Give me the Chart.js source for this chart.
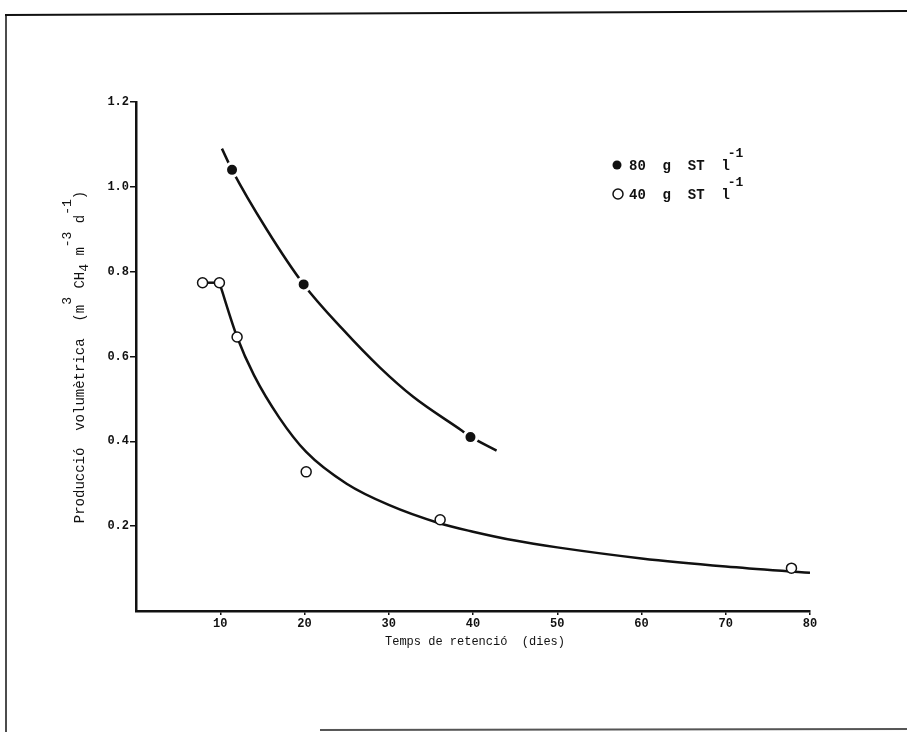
<!DOCTYPE html>
<html>
<head>
<meta charset="utf-8">
<script src="https://cdn.jsdelivr.net/npm/chart.js@4.4.1/dist/chart.umd.min.js"></script>
<style>
  html, body { margin: 0; padding: 0; background: #fff; }
  canvas { display: block; }
</style>
</head>
<body>
<canvas id="chart" width="907" height="732"></canvas>
<script>
// punts mesurats: temps de retenció (dies) i producció (m3 CH4 m-3 d-1)
const dies80 = [11.4, 19.9, 39.7];
const prod80 = [1.04, 0.77, 0.41];
const dies40 = [7.9, 9.9, 12.0, 20.2, 36.1, 77.8];
const prod40 = [0.774, 0.774, 0.646, 0.328, 0.215, 0.101];

// corbes ajustades, llegides del gràfic
const corba80X = [10.2, 11.4, 15.5, 19.9, 24.5, 28.9, 32.9, 38.7, 39.7, 42.8];
const corba80Y = [1.09, 1.04, 0.9, 0.77, 0.665, 0.575, 0.505, 0.425, 0.411, 0.378];
const corba40X = [9.9, 12.0, 14, 17, 20.2, 25, 30, 36, 40, 45, 50, 60, 70, 80];
const corba40Y = [0.774, 0.646, 0.556, 0.456, 0.375, 0.3, 0.25, 0.207, 0.187, 0.166, 0.15, 0.124, 0.105, 0.09];

// tram curt entre els dos primers punts de 40 g
const uneixX = [7.9, 9.9];
const uneixY = [0.774, 0.774];

const xTicks = [10, 20, 30, 40, 50, 60, 70, 80];
const yTicks = [0.2, 0.4, 0.6, 0.8, 1.0, 1.2];
const llegenda = ['80  g  ST  l', '40  g  ST  l'];

const INK = '#111';
const mono = 'Liberation Mono, Courier New, monospace';

function punts(xs, ys) {
  return xs.map((x, i) => ({ x: x, y: ys[i] }));
}

// marc, títols dels eixos i llegenda
const decor = {
  id: 'decor',
  afterDraw(chart) {
    const ctx = chart.ctx;
    const area = chart.chartArea;
    ctx.save();

    // marc del full escanejat
    ctx.strokeStyle = INK;
    ctx.lineWidth = 2;
    ctx.beginPath();
    ctx.moveTo(5, 15); ctx.lineTo(907, 11);
    ctx.stroke();
    ctx.lineWidth = 1.5;
    ctx.beginPath();
    ctx.moveTo(6, 15); ctx.lineTo(6, 732);
    ctx.stroke();
    ctx.strokeStyle = '#555';
    ctx.lineWidth = 2;
    ctx.beginPath();
    ctx.moveTo(320, 730); ctx.lineTo(907, 729);
    ctx.stroke();

    ctx.fillStyle = INK;

    // títol eix x
    ctx.font = '12px ' + mono;
    ctx.textAlign = 'center';
    ctx.textBaseline = 'middle';
    ctx.fillText('Temps de retenció  (dies)', 475, area.bottom + 31);

    // títol eix y, girat, amb super i subíndexs
    const parts = [
      { t: 'Producció  volumètrica  (m', s: 0 },
      { t: '3', s: -1 },
      { t: ' CH', s: 0 },
      { t: '4', s: 1 },
      { t: ' m', s: 0 },
      { t: '-3', s: -1 },
      { t: ' d', s: 0 },
      { t: '-1', s: -1 },
      { t: ')', s: 0 }
    ];
    const fMain = '14px ' + mono;
    const fSmall = '13px ' + mono;
    let total = 0;
    parts.forEach(p => {
      ctx.font = p.s ? fSmall : fMain;
      p.w = ctx.measureText(p.t).width;
      total += p.w;
    });
    ctx.translate(80, 357);
    ctx.rotate(-Math.PI / 2);
    ctx.textAlign = 'left';
    let px = -total / 2;
    parts.forEach(p => {
      ctx.font = p.s ? fSmall : fMain;
      const off = p.s < 0 ? -12 : (p.s > 0 ? 5 : 0);
      ctx.fillText(p.t, px, off);
      px += p.w;
    });
    ctx.setTransform(1, 0, 0, 1, 0, 0);

    // llegenda
    const lx = 617;
    const rows = [area.top + 63, area.top + 92];
    ctx.lineWidth = 1.5;
    ctx.strokeStyle = INK;
    ctx.beginPath();
    ctx.arc(lx, rows[0], 4.5, 0, Math.PI * 2);
    ctx.fill();
    ctx.beginPath();
    ctx.arc(lx + 1, rows[1], 5, 0, Math.PI * 2);
    ctx.stroke();
    ctx.textAlign = 'left';
    llegenda.forEach((txt, i) => {
      ctx.font = 'bold 14px ' + mono;
      ctx.fillText(txt, lx + 12, rows[i] + 1);
      const w = ctx.measureText(txt).width;
      ctx.font = 'bold 13px ' + mono;
      ctx.fillText('-1', lx + 12 + w - 2, rows[i] - 11);
    });

    ctx.restore();
  }
};

const ctx = document.getElementById('chart').getContext('2d');
new Chart(ctx, {
  type: 'scatter',
  data: {
    datasets: [
      {
        label: 'corba 80',
        data: punts(corba80X, corba80Y),
        showLine: true,
        cubicInterpolationMode: 'monotone',
        borderColor: INK,
        borderWidth: 2.5,
        pointRadius: 0,
        order: 5
      },
      {
        label: 'corba 40',
        data: punts(corba40X, corba40Y),
        showLine: true,
        cubicInterpolationMode: 'monotone',
        borderColor: INK,
        borderWidth: 2.5,
        pointRadius: 0,
        order: 5
      },
      {
        label: 'unió',
        data: punts(uneixX, uneixY),
        showLine: true,
        borderColor: INK,
        borderWidth: 2.5,
        pointRadius: 0,
        order: 4
      },
      {
        label: '80 g ST l-1',
        data: punts(dies80, prod80),
        pointRadius: 6.5,
        pointBackgroundColor: INK,
        pointBorderColor: '#fff',
        pointBorderWidth: 3,
        order: 1
      },
      {
        label: '40 g ST l-1',
        data: punts(dies40, prod40),
        pointRadius: 5,
        pointBackgroundColor: '#fff',
        pointBorderColor: INK,
        pointBorderWidth: 1.5,
        order: 1
      }
    ]
  },
  options: {
    responsive: false,
    animation: false,
    layout: { padding: { top: 102, right: 97, left: 0, bottom: 0 } },
    plugins: {
      legend: { display: false },
      tooltip: { enabled: false }
    },
    scales: {
      x: {
        type: 'linear',
        min: 0,
        max: 80,
        afterBuildTicks: s => { s.ticks = xTicks.map(v => ({ value: v })); },
        afterFit: s => { s.height = 121; },
        grid: { drawOnChartArea: false, drawTicks: true, tickLength: 4, color: INK, lineWidth: 1.5 },
        border: { display: true, color: INK, width: 2.5 },
        ticks: {
          color: INK,
          padding: 2,
          maxRotation: 0,
          font: { family: mono, size: 12, weight: 'bold' },
          callback: v => String(v)
        }
      },
      y: {
        type: 'linear',
        min: 0,
        max: 1.2,
        afterBuildTicks: s => { s.ticks = yTicks.map(v => ({ value: v })); },
        afterFit: s => { s.width = 136; },
        grid: { drawOnChartArea: false, drawTicks: true, tickLength: 6, color: INK, lineWidth: 1.5 },
        border: { display: true, color: INK, width: 2.5 },
        ticks: {
          color: INK,
          padding: 1,
          font: { family: mono, size: 12, weight: 'bold' },
          callback: v => Number(v).toFixed(1)
        }
      }
    }
  },
  plugins: [decor]
});
</script>
</body>
</html>
